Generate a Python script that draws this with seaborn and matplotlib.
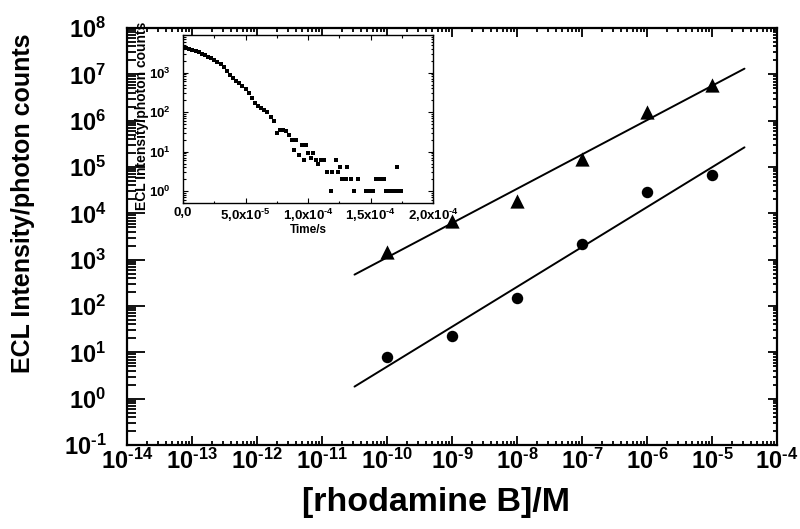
import numpy as np
import pandas as pd
import matplotlib
matplotlib.use("Agg")
import matplotlib.pyplot as plt
import matplotlib.ticker as mticker
import seaborn as sns

# ECL intensity vs. rhodamine B concentration
conc = [1e-10, 1e-9, 1e-8, 1e-7, 1e-6, 1e-5]
ecl_triangle = [1480, 6800, 18700, 1.49e5, 1.54e6, 5.8e6]
ecl_circle = [8.1, 22, 150, 2150, 29500, 67000]
fit_range = [10 ** -10.5, 10 ** -4.5]

# ECL decay transient (inset)
decay_time_us = [0, 2.5, 5, 7.5, 10, 12.5, 15, 17.5, 20, 22.5, 25, 27.5, 30, 32.5,
                 35, 37.5, 40, 42.5, 45, 47.5, 50, 52.5, 55, 57.5, 60, 62.5, 65,
                 67.5, 70, 72.5, 75, 77.5, 80, 82.5, 85, 87, 88.5, 90.5, 92.5, 95,
                 96.5, 98.5, 100, 102, 104, 106, 108, 110.5, 112.5, 115.5, 118,
                 119.5, 122, 123.7, 125.6, 127.5, 130.5, 131.5, 134, 136.5, 140,
                 146, 149, 152, 154.5, 157.5, 160.5, 162, 165, 168, 171, 171.5, 174]
decay_counts = [4470, 4270, 4070, 3800, 3550, 3310, 3020, 2750, 2510, 2290, 2090,
                1860, 1620, 1410, 1120, 890, 740, 620, 550, 470, 380, 300, 230, 175,
                140, 126, 115, 100, 76, 58, 30, 36, 35, 33, 26, 20, 11, 20, 8, 15,
                6, 15, 9, 7, 9, 6, 5, 6, 6, 3, 1, 3, 6, 3, 4, 2, 2, 4, 2, 1, 2,
                1, 1, 1, 2, 2, 2, 1, 1, 1, 1, 4, 1]

HY = "\u2010"  # short hyphen used in exponents
inset_xticks = [0, 5e-5, 1e-4, 1.5e-4, 2e-4]
inset_xticklabels = ["0,0", f"5,0x10$^{{{HY}5}}$", f"1,0x10$^{{{HY}4}}$",
                     f"1,5x10$^{{{HY}4}}$", f"2,0x10$^{{{HY}4}}$"]

sns.set_theme(style="ticks")
plt.rcParams["font.family"] = ["Liberation Sans", "DejaVu Sans"]
plt.rcParams["font.weight"] = "bold"
plt.rcParams["text.color"] = "black"
plt.rcParams["axes.labelcolor"] = "black"
plt.rcParams["xtick.color"] = "black"
plt.rcParams["ytick.color"] = "black"
plt.rcParams["mathtext.fontset"] = "custom"
plt.rcParams["mathtext.bf"] = "Liberation Sans:bold"
plt.rcParams["mathtext.rm"] = "Liberation Sans:bold"
plt.rcParams["mathtext.default"] = "bf"

W, H = 800, 529
fig = plt.figure(figsize=(W / 100, H / 100), dpi=100)
fig.patch.set_facecolor("white")


def box(l, t, r, b):
    return [l / W, 1 - b / H, (r - l) / W, (b - t) / H]


def pow10(v, pos=None):
    e = int(round(np.log10(v)))
    s = str(e).replace("-", HY)
    return f"10$^{{{s}}}$"


ax = fig.add_axes(box(127, 28, 777, 445))
ax.set_facecolor("white")

tri = pd.DataFrame({"conc": conc, "ecl": ecl_triangle})
circ = pd.DataFrame({"conc": conc, "ecl": ecl_circle})

# linear fits in log-log space
lines = []
for name, vals in (("tri", ecl_triangle), ("circ", ecl_circle)):
    k, b0 = np.polyfit(np.log10(conc), np.log10(vals), 1)
    xs = np.array(fit_range)
    lines.append(pd.DataFrame({"conc": xs, "ecl": 10 ** (k * np.log10(xs) + b0), "series": name}))
lines = pd.concat(lines, ignore_index=True)

ax.set_xscale("log")
ax.set_yscale("log")
sns.lineplot(data=lines, x="conc", y="ecl", units="series", estimator=None,
             color="black", lw=1.4, ax=ax, legend=False)
sns.scatterplot(data=tri, x="conc", y="ecl", marker="^", s=105, color="black",
                linewidth=0, ax=ax, legend=False)
sns.scatterplot(data=circ, x="conc", y="ecl", marker="o", s=68, color="black",
                linewidth=0, ax=ax, legend=False)

ax.set_xlim(1e-14, 1e-4)
ax.set_ylim(1e-1, 1e8)
ax.xaxis.set_major_locator(mticker.LogLocator(base=10, numticks=20))
ax.yaxis.set_major_locator(mticker.LogLocator(base=10, numticks=20))
ax.xaxis.set_major_formatter(mticker.FuncFormatter(pow10))
ax.yaxis.set_major_formatter(mticker.FuncFormatter(pow10))
ax.xaxis.set_minor_locator(mticker.LogLocator(base=10, subs=np.arange(2, 10), numticks=200))
ax.yaxis.set_minor_locator(mticker.LogLocator(base=10, subs=np.arange(2, 10), numticks=200))
ax.xaxis.set_minor_formatter(mticker.NullFormatter())
ax.yaxis.set_minor_formatter(mticker.NullFormatter())
ax.tick_params(which="both", direction="in", top=True, right=True, width=1.3,
               labelsize=17, colors="black")
ax.tick_params(which="major", length=6.5)
ax.tick_params(which="minor", length=3)
ax.tick_params(axis="x", pad=3)
ax.tick_params(axis="y", pad=15)
for sp in ax.spines.values():
    sp.set_linewidth(1.6)
    sp.set_color("black")

ax.set_xlabel("[rhodamine B]/M", fontsize=24.5, fontweight="bold", color="black")
ax.set_ylabel("ECL Intensity/photon counts", fontsize=18, fontweight="bold", color="black")
ax.xaxis.set_label_coords((436 - 127) / 650, (445 - 487) / 417)
ax.yaxis.set_label_coords((35 - 127) / 650, (445 - 203) / 417)

# longer ticks on the left spine
for t in ax.yaxis.get_major_ticks():
    t.tick1line.set_markersize(13)
for t in ax.yaxis.get_minor_ticks():
    t.tick1line.set_markersize(6.5)

# inset: decay transient
ins = fig.add_axes(box(183, 35, 433, 203))
ins.set_facecolor("white")
decay = pd.DataFrame({"t": np.array(decay_time_us) * 1e-6, "counts": decay_counts})
ins.set_yscale("log")
sns.scatterplot(data=decay, x="t", y="counts", marker="s", s=10, color="black",
                linewidth=0, ax=ins, legend=False)
ins.set_xlim(0, 2e-4)
ins.set_ylim(0.5, 9000)
ins.set_xticks(inset_xticks)
ins.set_xticklabels(inset_xticklabels)
ins.xaxis.set_minor_locator(mticker.MultipleLocator(2.5e-5))
ins.yaxis.set_major_locator(mticker.LogLocator(base=10, numticks=10))
ins.yaxis.set_major_formatter(mticker.FuncFormatter(pow10))
ins.yaxis.set_minor_locator(mticker.LogLocator(base=10, subs=np.arange(2, 10), numticks=100))
ins.yaxis.set_minor_formatter(mticker.NullFormatter())
ins.tick_params(which="both", direction="in", top=True, right=True, width=0.8,
                labelsize=9.5, colors="black")
ins.tick_params(which="major", length=3.5)
ins.tick_params(which="minor", length=1.8)
ins.tick_params(axis="y", pad=9)
ins.tick_params(axis="x", pad=3)
for sp in ins.spines.values():
    sp.set_linewidth(1.0)
    sp.set_color("black")
ins.set_xlabel("Time/s", fontsize=8.5, fontweight="bold", labelpad=0, color="black")
ins.set_ylabel("ECL Intensity/photon counts", fontsize=10, fontweight="bold", color="black")
ins.yaxis.set_label_coords((149 - 183) / 250, (203 - 116) / 168)

fig.savefig("out.png", dpi=100, facecolor="white")
